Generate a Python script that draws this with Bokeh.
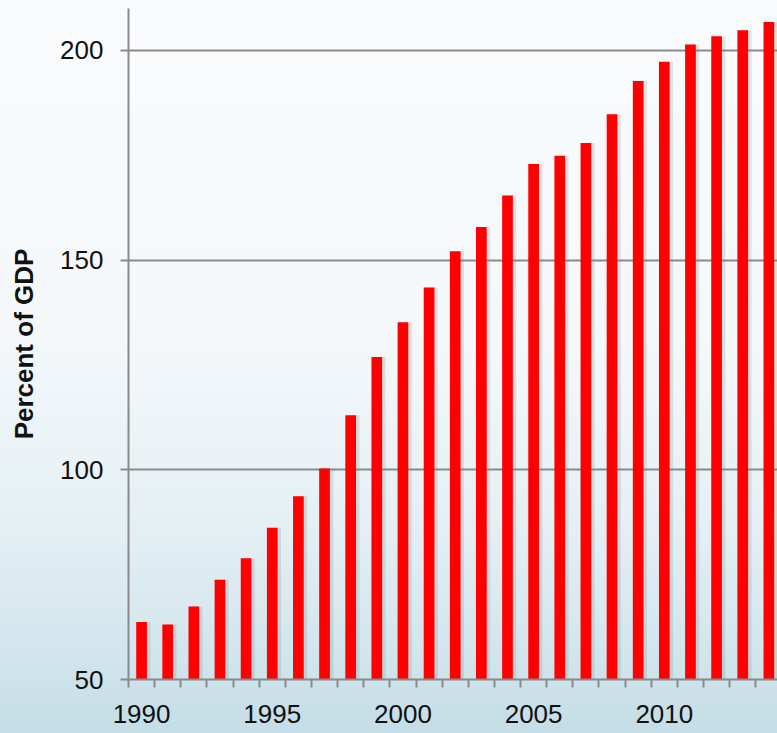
from bokeh.plotting import figure
from bokeh.models import ColumnDataSource, FixedTicker, Range1d
from bokeh.transform import dodge
from bokeh.embed import file_html
from bokeh.resources import INLINE

years = list(range(1990, 2015))
values = [63.7, 63.1, 67.4, 73.8, 78.9, 86.2, 93.7, 100.3, 113.0, 126.9,
          135.2, 143.5, 152.1, 157.9, 165.4, 172.9, 174.9, 177.9, 184.8, 192.7,
          197.3, 201.4, 203.4, 204.8, 206.8]
y_ticks = [50, 100, 150, 200]
x_label_years = [1990, 1995, 2000, 2005, 2010]
x_boundaries = [y - 0.5 for y in years] + [years[-1] + 0.5]
y_label = "Percent of GDP"

source = ColumnDataSource(data=dict(year=years, value=values))

p = figure(width=777, height=733, output_backend="svg", toolbar_location=None,
           x_range=Range1d(1989.5, 2014.33), y_range=Range1d(50, 210),
           min_border_left=128, min_border_right=0, min_border_top=8,
           min_border_bottom=54)

p.styles = {"background": "linear-gradient(to bottom, #f9fbfd 0%, #f4f8fb 45%, #e6f0f4 70%, #d3e6ed 88%, #c4dde6 100%)"}
p.background_fill_alpha = 0
p.border_fill_alpha = 0
p.outline_line_color = None

# shadow
p.vbar(x=dodge("year", 0.13, range=p.x_range), top="value", bottom=50, width=0.41,
       source=source, fill_color="#7a8a92", fill_alpha=0.22, line_color=None)
p.vbar(x="year", top="value", bottom=50, width=0.41, source=source,
       fill_color="#ff0000", line_color=None)

font = "Liberation Sans"

# x axis
xa = p.xaxis[0]
xa.ticker = FixedTicker(ticks=x_label_years, minor_ticks=x_boundaries)
xa.major_tick_line_color = None
xa.major_tick_out = 8
xa.major_tick_in = 0
xa.minor_tick_out = 8
xa.minor_tick_in = 0
xa.minor_tick_line_color = "#8a8a8a"
xa.minor_tick_line_width = 2
xa.axis_line_color = "#8a8a8a"
xa.axis_line_width = 2
xa.major_label_text_font = font
xa.major_label_text_font_size = "26px"
xa.major_label_text_color = "#111111"
xa.major_label_standoff = 17

# y axis
ya = p.yaxis[0]
ya.ticker = FixedTicker(ticks=y_ticks)
ya.minor_tick_line_color = None
ya.major_tick_out = 8
ya.major_tick_in = 0
ya.major_tick_line_color = "#8a8a8a"
ya.major_tick_line_width = 2
ya.axis_line_color = "#8a8a8a"
ya.axis_line_width = 2
ya.major_label_text_font = font
ya.major_label_text_font_size = "26px"
ya.major_label_text_color = "#111111"
ya.major_label_standoff = 17
ya.axis_label = y_label
ya.axis_label_text_font = font
ya.axis_label_text_font_size = "26px"
ya.axis_label_text_font_style = "bold"
ya.axis_label_text_color = "#111111"
ya.axis_label_standoff = 18

p.xgrid.grid_line_color = None
p.ygrid.ticker = FixedTicker(ticks=y_ticks)
p.ygrid.grid_line_color = "#8a8a8a"
p.ygrid.grid_line_width = 2

open("out.html", "w").write(file_html(p, INLINE))
